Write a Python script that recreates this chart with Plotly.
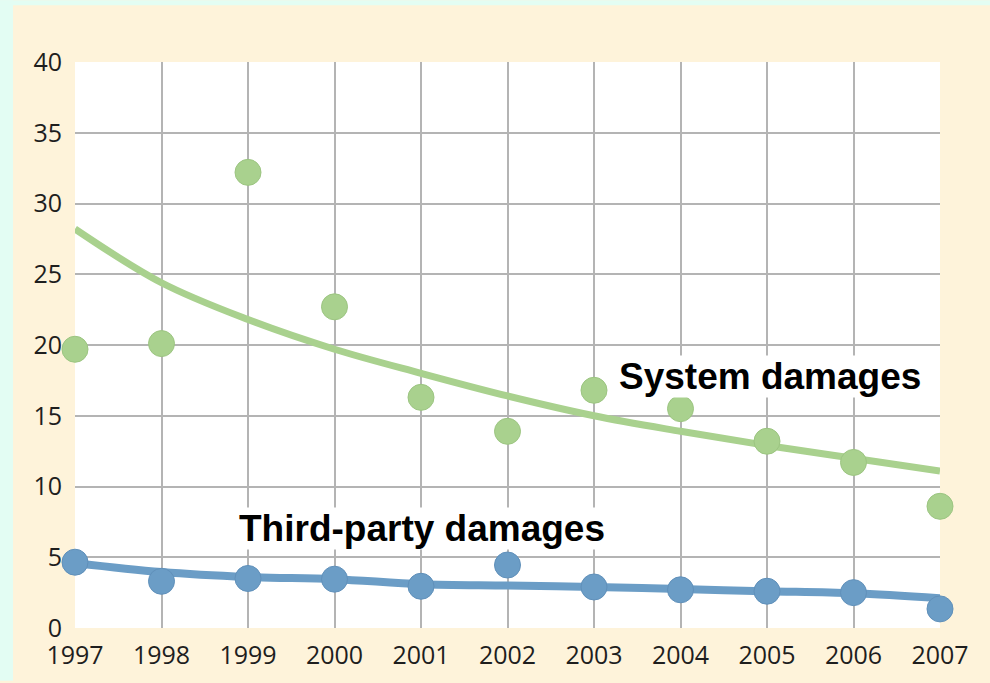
import plotly.graph_objects as go

years = [1997, 1998, 1999, 2000, 2001, 2002, 2003, 2004, 2005, 2006, 2007]
system_damages = [19.7, 20.1, 32.2, 22.7, 16.3, 13.9, 16.8, 15.5, 13.2, 11.7, 8.6]
system_trend = [28.2, 24.4, 21.8, 19.7, 18.0, 16.4, 15.0, 13.9, 12.9, 12.0, 11.1]
third_party_damages = [4.65, 3.3, 3.5, 3.45, 2.95, 4.45, 2.9, 2.7, 2.6, 2.5, 1.35]
third_party_trend = [4.6, 3.95, 3.6, 3.45, 3.1, 3.0, 2.9, 2.75, 2.6, 2.45, 2.1]
y_ticks = [0, 5, 10, 15, 20, 25, 30, 35, 40]

GREEN = "#a9d18e"
BLUE = "#6b9dc6"
MINT = "#e3fdf3"
BEIGE = "#fef3da"

fig = go.Figure()
fig.add_trace(go.Scatter(x=years, y=system_trend, mode="lines",
                         line=dict(color=GREEN, width=7, shape="spline"),
                         hoverinfo="skip", cliponaxis=False))
fig.add_trace(go.Scatter(x=years, y=third_party_trend, mode="lines",
                         line=dict(color=BLUE, width=8, shape="spline"),
                         hoverinfo="skip", cliponaxis=False))
fig.add_trace(go.Scatter(x=years, y=system_damages, mode="markers",
                         marker=dict(color=GREEN, size=26,
                                     line=dict(color="#9cc581", width=1)),
                         cliponaxis=False))
fig.add_trace(go.Scatter(x=years, y=third_party_damages, mode="markers",
                         marker=dict(color=BLUE, size=26,
                                     line=dict(color="#6090ba", width=1)),
                         cliponaxis=False))

W, H = 990, 683
L, R, T, B = 75, 50, 62, 53
pw, ph = W - L - R, H - T - B

def px_x(p):
    return (p - L) / pw

def px_y(p):
    return (H - B - p) / ph

fig.add_shape(type="rect", xref="paper", yref="paper", layer="below",
              x0=px_x(0), x1=px_x(13), y0=px_y(H), y1=px_y(0),
              fillcolor=MINT, line=dict(width=0))
fig.add_shape(type="rect", xref="paper", yref="paper", layer="below",
              x0=px_x(0), x1=px_x(W), y0=px_y(5), y1=px_y(0),
              fillcolor=MINT, line=dict(width=0))

ANN_FONT = dict(family="Liberation Sans, Arial, sans-serif", size=37, color="#000")
fig.add_annotation(x=2005.03, y=17.8, xref="x", yref="y",
                   text="<b>System damages</b>", showarrow=False,
                   font=ANN_FONT, bgcolor="white", borderpad=0)
fig.add_annotation(x=2001.01, y=7.0, xref="x", yref="y",
                   text="<b>Third-party damages</b>", showarrow=False,
                   font=ANN_FONT, bgcolor="white", borderpad=0)

TICK_FONT = dict(family="Open Sans, sans-serif", size=25, color="#1e1e1e")
fig.update_layout(
    width=W, height=H,
    margin=dict(l=L, r=R, t=T, b=B),
    paper_bgcolor=BEIGE, plot_bgcolor="white",
    showlegend=False,
    xaxis=dict(range=[1997, 2007], tickmode="array", tickvals=years,
               ticktext=[str(y) for y in years],
               showgrid=True, gridcolor="#b4b4b4", gridwidth=2,
               zeroline=False, showline=False, ticks="",
               ticklabelstandoff=10, tickfont=TICK_FONT),
    yaxis=dict(range=[0, 40], tickmode="array", tickvals=y_ticks,
               showgrid=True, gridcolor="#b4b4b4", gridwidth=2,
               zeroline=False, showline=False, ticks="",
               ticklabelstandoff=12, tickfont=TICK_FONT),
)

fig.write_html("out.html", config={"displayModeBar": False},
               post_script="document.body.style.margin='0';document.body.style.background='%s';" % MINT)
